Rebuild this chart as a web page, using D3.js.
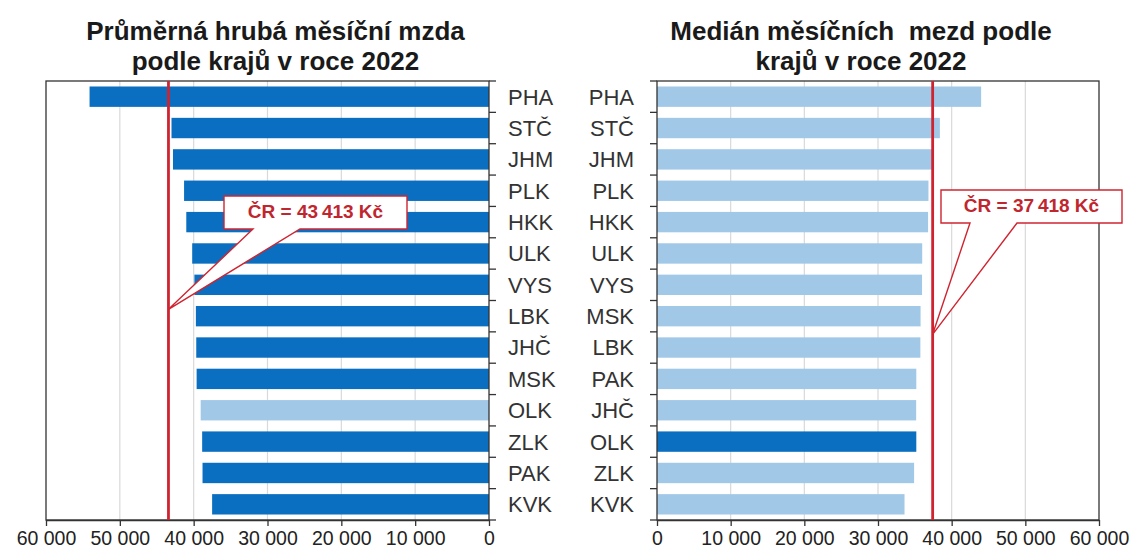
<!DOCTYPE html>
<html lang="cs">
<head>
    <meta charset="UTF-8">
    <title>Mzdy podle krajů 2022</title>
    <script src="https://d3js.org/d3.v7.min.js"></script>
    <style>
        body {
            margin: 0;
            background-color: #ffffff;
            font-family: "Liberation Sans", Arial, sans-serif;
        }
        svg text { white-space: pre; }
    </style>
</head>
<body>
    <div id="chart"></div>

    <script>
        // Average gross monthly wage by region (left panel)
        const avgRegions = ["PHA", "STČ", "JHM", "PLK", "HKK", "ULK", "VYS", "LBK", "JHČ", "MSK", "OLK", "ZLK", "PAK", "KVK"];
        const avgValues  = [54100, 43000, 42800, 41300, 41000, 40200, 39900, 39700, 39650, 39600, 39050, 38850, 38800, 37500];

        // Median monthly wage by region (right panel)
        const medRegions = ["PHA", "STČ", "JHM", "PLK", "HKK", "ULK", "VYS", "MSK", "LBK", "PAK", "JHČ", "OLK", "ZLK", "KVK"];
        const medValues  = [44000, 38400, 37600, 36850, 36800, 36000, 35980, 35780, 35750, 35200, 35180, 35200, 34900, 33600];

        const xTicks = [0, 10000, 20000, 30000, 40000, 50000, 60000];
        const highlight = "OLK";   // highlighted region
        const czAvg = 43413;       // ČR average
        const czMedian = 37418;    // ČR median

        const leftTitle  = ["Průměrná hrubá měsíční mzda", "podle krajů v roce 2022"];
        const rightTitle = ["Medián měsíčních  mezd podle", "krajů v roce 2022"];

        // colours
        const darkBlue = "#0a6fc0";
        const lightBlue = "#a2c8e8";
        const red = "#cf2430";
        const gridColor = "#d9d9d9";
        const axisColor = "#333333";

        const width = 1137, height = 559;
        const plotTop = 81, plotBottom = 520;

        const cz = d3.formatLocale({ decimal: ",", thousands: "\u00a0", grouping: [3], currency: ["", " Kč"] });
        const tickFmt = cz.format(",d");
        const czFmt = d3.formatLocale({ decimal: ",", thousands: "\u2009", grouping: [3], currency: ["", ""] }).format(",d");

        const svg = d3.select('#chart')
            .append('svg')
            .attr('width', width)
            .attr('height', height);

        svg.append('rect').attr('width', width).attr('height', height).attr('fill', '#fff');

        function drawPanel(cfg) {
            const g = svg.append('g');

            const x = d3.scaleLinear().domain([0, 60000]).range(cfg.xRange);
            const y = d3.scaleBand().domain(cfg.cats).range([plotTop, plotBottom]).paddingInner(0.35).paddingOuter(0.175);
            const x0 = x(0), xMax = x(60000);
            const left = Math.min(x0, xMax), right = Math.max(x0, xMax);

            // gridlines
            g.selectAll('.grid')
                .data(xTicks.slice(1, -1))
                .enter().append('line')
                .attr('x1', d => x(d)).attr('x2', d => x(d))
                .attr('y1', plotTop).attr('y2', plotBottom)
                .attr('stroke', gridColor).attr('stroke-width', 1.2);

            // bars
            g.selectAll('.bar')
                .data(cfg.cats)
                .enter().append('rect')
                .attr('x', (d, i) => Math.min(x0, x(cfg.values[i])))
                .attr('width', (d, i) => Math.abs(x(cfg.values[i]) - x0))
                .attr('y', d => y(d))
                .attr('height', y.bandwidth())
                .attr('fill', d => (d === highlight) === cfg.highlightDark ? darkBlue : lightBlue);

            // plot border
            g.append('rect')
                .attr('x', left).attr('y', plotTop)
                .attr('width', right - left).attr('height', plotBottom - plotTop)
                .attr('fill', 'none').attr('stroke', axisColor).attr('stroke-width', 1.3);

            // value axis
            const xAxis = d3.axisBottom(x).tickValues(xTicks).tickFormat(tickFmt).tickSize(6).tickSizeOuter(0).tickPadding(5);
            const ax = g.append('g').attr('transform', `translate(0,${plotBottom})`).call(xAxis);
            ax.select('.domain').attr('stroke', axisColor).attr('stroke-width', 1.3);
            ax.selectAll('.tick line').attr('stroke', axisColor).attr('stroke-width', 1.3);
            ax.selectAll('.tick text')
                .attr('fill', '#222')
                .style('font-family', '"Liberation Sans", Arial, sans-serif')
                .style('font-size', '19.5px');

            // category axis (labels only, ticks between bands)
            const onLeft = cfg.catSide === 'left';
            const yAxis = (onLeft ? d3.axisLeft(y) : d3.axisRight(y)).tickSize(0).tickPadding(onLeft ? 23 : 19);
            const ay = g.append('g').attr('transform', `translate(${x0},0)`).call(yAxis);
            ay.select('.domain').remove();
            ay.selectAll('.tick text')
                .attr('fill', '#333')
                .attr('dy', '0.36em')
                .style('font-family', '"Liberation Sans", Arial, sans-serif')
                .style('font-size', '22px');

            const bounds = d3.range(cfg.cats.length + 1).map(i => plotTop + i * y.step());
            g.selectAll('.ctick')
                .data(bounds)
                .enter().append('line')
                .attr('x1', x0).attr('x2', x0 + (onLeft ? -7 : 7))
                .attr('y1', d => d).attr('y2', d => d)
                .attr('stroke', axisColor).attr('stroke-width', 1.3);

            // ČR reference line
            g.append('line')
                .attr('x1', x(cfg.ref)).attr('x2', x(cfg.ref))
                .attr('y1', plotTop).attr('y2', plotBottom)
                .attr('stroke', red).attr('stroke-width', 2.8);

            // callout
            const b = cfg.box;
            const tipX = x(cfg.ref), tipY = plotTop + cfg.tipFrac * (plotBottom - plotTop);
            g.append('path')
                .attr('d', `M${b.x0},${b.y0}H${b.x1}V${b.y1}H${b.w1}L${tipX},${tipY}L${b.w0},${b.y1}H${b.x0}Z`)
                .attr('fill', '#fff').attr('stroke', red).attr('stroke-width', 1.4);
            g.append('text')
                .attr('x', (b.x0 + b.x1) / 2).attr('y', b.y1 - 11)
                .attr('text-anchor', 'middle')
                .attr('fill', '#c0262e')
                .style('font-size', '19px').style('font-weight', 'bold')
                .text(`ČR = ${czFmt(cfg.ref)} Kč`);

            // title
            g.selectAll('.title')
                .data(cfg.title)
                .enter().append('text')
                .attr('x', cfg.titleX)
                .attr('y', (d, i) => 40 + i * 30)
                .attr('text-anchor', 'middle')
                .attr('fill', '#1a1a1a')
                .style('font-size', '26px').style('font-weight', 'bold')
                .text(d => d);
        }

        drawPanel({
            cats: avgRegions, values: avgValues, xRange: [489, 46],
            catSide: 'right', highlightDark: false, ref: czAvg,
            box: { x0: 224, x1: 407, y0: 196, y1: 229, w0: 253, w1: 300 }, tipFrac: 0.52,
            title: leftTitle, titleX: 275.5
        });

        drawPanel({
            cats: medRegions, values: medValues, xRange: [657, 1099],
            catSide: 'left', highlightDark: true, ref: czMedian,
            box: { x0: 941, x1: 1122, y0: 190, y1: 223, w0: 970, w1: 1017 }, tipFrac: 0.577,
            title: rightTitle, titleX: 861
        });
    </script>
</body>
</html>
